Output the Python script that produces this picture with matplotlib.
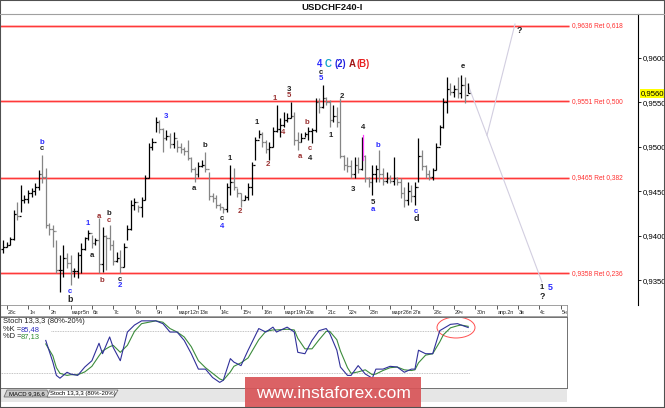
import numpy as np
import matplotlib
matplotlib.use('Agg')
import matplotlib.pyplot as plt
import matplotlib.transforms as mtransforms
from matplotlib.patches import Ellipse, Rectangle, Polygon
from matplotlib.lines import Line2D

plt.rcParams['font.family'] = ['Liberation Sans', 'DejaVu Sans']

# H4 bars, bar index 2 = 28 Feb 00:00, six bars per trading day
highs = [.9395, .9393, .9399, .9429, .9438, .9457, .9446, .9452, .9454, .9459,
         .9474, .9491, .9476, .9414, .9412, .9395, .9378, .9390, .9381, .9378,
         .9364, .9382, .9392, .9399, .9407, .9401, .9398, .9420, .9410, .9401,
         .9412, .9395, .9382, .9384, .9392, .9412, .9440, .9443, .9435, .9444,
         .9468, .9504, .9510, .9534, .9530, .9521, .9519, .9516, .9517, .9508,
         .9504, .9500, .9508, .9489, .9477, .9483, .9485, .9494, .9472, .9448,
         .9446, .9437, .9432, .9459, .9480, .9476, .9454, .9448, .9446, .9459,
         .9483, .9511, .9519, .9517, .9508, .9505, .9522, .9547, .9532, .9539,
         .9538, .9550, .9539, .9517, .9516, .9517, .9522, .9521, .9555, .9555,
         .9570, .9556, .9553, .9547, .9545, .9555, .9491, .9489, .9485, .9489,
         .9489, .9511, .9491, .9466, .9480, .9480, .9496, .9476, .9472, .9468,
         .9489, .9466, .9465, .9455, .9461, .9457, .9461, .9510, .9496, .9480,
         .9474, .9476, .9504, .9525, .9555, .9579, .9572, .9570, .9579, .9581,
         .9579, .9572]
lows = [.9381, .9387, .9390, .9395, .9418, .9427, .9437, .9437, .9444, .9446,
        .9452, .9459, .9409, .9401, .9387, .9358, .9337, .9354, .9364, .9345,
        .9354, .9353, .9358, .9384, .9395, .9386, .9390, .9358, .9359, .9362,
        .9384, .9367, .9371, .9358, .9365, .9395, .9407, .9429, .9427, .9421,
        .9440, .9465, .9496, .9517, .9516, .9494, .9508, .9499, .9499, .9494,
        .9493, .9491, .9485, .9472, .9461, .9466, .9477, .9472, .9440, .9438,
        .9431, .9429, .9426, .9427, .9446, .9452, .9444, .9432, .9440, .9440,
        .9446, .9485, .9510, .9500, .9493, .9485, .9500, .9517, .9511, .9522,
        .9528, .9532, .9502, .9496, .9505, .9511, .9508, .9504, .9517, .9538,
        .9544, .9547, .9522, .9528, .9522, .9487, .9474, .9472, .9465, .9465,
        .9471, .9474, .9461, .9455, .9446, .9461, .9461, .9457, .9459, .9459,
        .9457, .9457, .9443, .9432, .9435, .9438, .9435, .9461, .9474, .9465,
        .9463, .9463, .9474, .9502, .9521, .9538, .9558, .9556, .9555, .9555,
        .9549, .9561]
closes = [.9388, .9390, .9397, .9425, .9422, .9440, .9441, .9448, .9450, .9455,
          .9470, .9466, .9412, .9408, .9405, .9362, .9362, .9375, .9370, .9360,
          .9361, .9378, .9385, .9398, .9403, .9392, .9395, .9368, .9400, .9398,
          .9390, .9372, .9375, .9365, .9388, .9408, .9435, .9438, .9432, .9440,
          .9465, .9500, .9505, .9528, .9520, .9510, .9512, .9503, .9510, .9500,
          .9498, .9495, .9488, .9475, .9470, .9478, .9480, .9475, .9445, .9442,
          .9435, .9432, .9430, .9455, .9460, .9455, .9448, .9440, .9444, .9455,
          .9480, .9508, .9515, .9505, .9498, .9500, .9518, .9520, .9525, .9530,
          .9532, .9535, .9508, .9505, .9510, .9514, .9518, .9519, .9550, .9545,
          .9555, .9550, .9530, .9535, .9528, .9490, .9480, .9478, .9470, .9480,
          .9475, .9490, .9465, .9460, .9470, .9475, .9470, .9462, .9465, .9462,
          .9465, .9460, .9448, .9440, .9450, .9445, .9455, .9490, .9478, .9470,
          .9466, .9474, .9500, .9522, .9550, .9565, .9562, .9565, .9560, .9570,
          .9558, .9560]
first_open = 0.9385

fib_levels = [0.9636, 0.9551, 0.9465, 0.9358]
fib_ratios = ['0,618', '0,500', '0,382', '0,236']
price_ticks = [0.9350, 0.9400, 0.9450, 0.9500, 0.9550, 0.9600]
last_price = 0.9560

day_labels = ['28с', '1ч', '2п', 'март5п', '6в', '7с', '8ч', '9п', 'март12п', '13в',
              '14с', '15ч', '16п', 'март19п', '20в', '21с', '22ч', '23п', 'март26п',
              '27в', '28с', '29ч', '30п', 'апр.2п', '3в', '4с', '5ч']

stoch_idx = [13, 15, 16, 17, 19, 20, 22, 24, 26, 28, 29, 31, 32, 34, 36, 38, 40, 44, 46, 48,
             50, 52, 54, 56, 58, 60, 62, 63, 65, 66, 68, 70, 73, 75, 77, 78, 81, 83, 84, 86,
             88, 90, 92, 93, 95, 96, 98, 99, 101, 103, 105, 106, 108, 110, 112, 114, 116, 117,
             118, 120, 122, 124, 125, 127, 129, 130, 132]
stoch_k = [67, 36, 17, 13, 21.5, 19, 17, 29, 38, 63, 48, 72, 57, 38, 79, 89, 95, 95, 91, 79,
           79, 67, 48, 26, 26, 14, 7, 10, 41, 36, 31, 53, 84, 79, 86, 79, 86, 79, 50, 48,
           67, 81, 84, 77, 53, 29, 17, 17, 31, 19, 13, 26, 26, 30, 29, 21.5, 26, 26,
           53, 48, 48, 81, 84, 90, 91, 89, 85.48]
stoch_d = [62, 45, 28, 20, 17, 18, 18, 22, 30, 45, 52, 58, 60, 50, 60, 80, 91, 95, 93, 84,
           79, 72, 58, 38, 28, 20, 12, 10, 22, 30, 35, 42, 68, 80, 82, 82, 83, 82, 70, 55,
           55, 68, 80, 80, 68, 52, 28, 20, 22, 25, 18, 19, 24, 28, 29, 25, 24, 25,
           35, 46, 48, 65, 75, 85, 88, 89, 87.13]

BLUE, BROWN, BLACK = '#2a2aff', '#9a3030', '#202020'
# wave labels: text, bar index, price, colour, bold
wave_labels = [
    ('b', 11.9, .9505, BLUE, False), ('c', 11.9, .9498, BLACK, False),
    ('1', 24.9, .9414, BLUE, False), ('a', 28.0, .9422, BROWN, False),
    ('b', 30.8, .9425, BLACK, False), ('c', 30.8, .9417, BROWN, False),
    ('a', 26.0, .9378, BLACK, False), ('b', 28.8, .9350, BROWN, False),
    ('c', 33.9, .9351, BLACK, False), ('2', 33.9, .9344, BLUE, False),
    ('c', 19.8, .9337, BLUE, False), ('b', 19.8, .9328, BLACK, True),
    ('3', 46.9, .9534, BLUE, False), ('b', 57.9, .9502, BLACK, False),
    ('a', 54.8, .9453, BLACK, False), ('1', 64.9, .9487, BLACK, False),
    ('c', 62.6, .9419, BLACK, False), ('4', 62.6, .9410, BLUE, False),
    ('2', 67.7, .9427, BROWN, False), ('1', 72.5, .9527, BLACK, False),
    ('1', 77.6, .9554, BROWN, False), ('3', 81.5, .9565, BLACK, False),
    ('5', 81.5, .9558, BROWN, False), ('2', 75.6, .9480, BROWN, False),
    ('4', 79.8, .9516, BROWN, False), ('b', 86.6, .9527, BROWN, False),
    ('a', 84.6, .9489, BROWN, False), ('c', 87.4, .9498, BROWN, False),
    ('4', 87.4, .9487, BLACK, False), ('c', 90.5, .9584, BLACK, False),
    ('5', 90.5, .9577, BLUE, False), ('2', 96.4, .9557, BLACK, False),
    ('1', 93.4, .9513, BLACK, False), ('3', 99.5, .9452, BLACK, False),
    ('4', 102.4, .9522, BLACK, False), ('b', 106.6, .9502, BLUE, False),
    ('5', 105.2, .9438, BLACK, False), ('a', 105.2, .9430, BLUE, False),
    ('c', 117.3, .9427, BLUE, False), ('d', 117.3, .9419, BLACK, True),
    ('e', 130.5, .9590, BLACK, False), ('?', 146.3, .9631, BLACK, True),
    ('1', 152.8, .9342, BLACK, False), ('5', 155.0, .9342, BLUE, True),
    ('?', 152.8, .9332, BLACK, True),
]
big_label = [('4', 90.2, BLUE), ('C', 92.6, '#12a6c8'), ('(2)', 96.1, '#2020e0'),
             ('A', 99.4, '#a01818'), ('(B)', 102.5, '#e82020')]

W, H = 665, 408


def fx(px):
    return px / W


def fy(py):
    return 1 - py / H


def kx(px):
    # pixel column -> bar index
    return (px + 0.4) / 3.55


fig = plt.figure(figsize=(6.65, 4.08), dpi=100)
fig.patch.set_facecolor('white')

# ---- main price panel
ax = fig.add_axes([0, fy(305), fx(638), (305 - 14) / H])
ax.set_xlim(kx(0), kx(638))
ax.set_ylim(0.93223, 0.96493)
for s in ['top', 'left', 'bottom']:
    ax.spines[s].set_visible(False)
ax.spines['right'].set_color('black')
ax.spines['right'].set_linewidth(0.8)
ax.set_xticks([])
ax.yaxis.tick_right()
ax.set_yticks(price_ticks)
ax.set_yticklabels([f'{v:.4f}'.replace('.', ',') for v in price_ticks])
ax.tick_params(axis='y', direction='out', length=2.5, width=0.6, labelsize=5.6, pad=0.8)

idx = np.arange(1, len(highs) + 1)
opens = [first_open] + closes[:-1]
cols = ['#000000' if c >= o else '#858585' for o, c in zip(opens, closes)]
ax.vlines(idx, lows, highs, colors=cols, lw=0.9, zorder=3)
ax.hlines(opens, idx - 0.5, idx, colors=cols, lw=0.9, zorder=3)
ax.hlines(closes, idx, idx + 0.5, colors=cols, lw=0.9, zorder=3)

# fibonacci retracement lines
x_end = kx(569)
ax.hlines(fib_levels, kx(0), x_end, colors='#ffb8b8', lw=1.8, zorder=1)
ax.hlines(fib_levels, kx(0), x_end, colors='#ff3a3a', lw=0.9, zorder=2)
for lv, r in zip(fib_levels, fib_ratios):
    ax.text(kx(572), lv, f'{lv:.4f}'.replace('.', ',') + ' Ret ' + r,
            color='#ff3030', fontsize=4.8, va='center', ha='left')

# forecast lines
ax.plot([kx(468), kx(542)], [0.9570, 0.9348], color='#d2cee0', lw=0.8, zorder=2)
ax.plot([kx(487), kx(515)], [0.9513, 0.9638], color='#d2cee0', lw=0.8, zorder=2)
ax.plot([kx(363), kx(363)], [0.9513, 0.9485], color='#ff40ff', lw=0.9, zorder=4)

for txt, k, p, c, b in wave_labels:
    ax.text(k, p, txt, color=c, fontsize=6.4 if b else 5.6,
            fontweight='bold', ha='center', va='center', zorder=5)
for txt, k, c in big_label:
    ax.text(k, 0.9593, txt, color=c, fontsize=6.9, fontweight='bold',
            ha='center', va='center', zorder=5)

blend = mtransforms.blended_transform_factory(ax.transAxes, ax.transData)
ax.text(1.004, last_price, f'{last_price:.4f}'.replace('.', ','), transform=blend,
        fontsize=5.6, va='center', ha='left',
        bbox=dict(facecolor='#ffff00', edgecolor='none', pad=0.7))

# ---- time axis row
xl = (kx(0), kx(567))
dax = fig.add_axes([0, fy(316), fx(567), 11 / H])
dax.set_xlim(*xl)
dax.set_ylim(0, 1)
dax.set_xticks([])
dax.set_yticks([])
for s in dax.spines.values():
    s.set_color('#909090')
    s.set_linewidth(0.6)
day_pos = [2 + 6 * d for d in range(len(day_labels))]
dax.vlines(day_pos, 0.62, 1, color='#404040', lw=0.6)
for p, lab in zip(day_pos, day_labels):
    dax.text(p + 0.3, 0.32, lab, fontsize=3.8, va='center', ha='left', color='#202020')

# ---- stochastic panel
sax = fig.add_axes([0, fy(388), fx(567), (388 - 317) / H])
sax.set_xlim(*xl)
sax.set_ylim(-1, 100.5)
sax.set_xticks([])
sax.set_yticks([])
for s in sax.spines.values():
    s.set_color('#707070')
    s.set_linewidth(0.7)
sax.hlines(80, kx(51), 132.5, color='#b0b0b0', lw=0.6, linestyles=(0, (1, 1)))
sax.hlines(20, kx(0), 132.5, color='#b0b0b0', lw=0.6, linestyles=(0, (1, 1)))
sax.plot(stoch_idx, stoch_d, color='#3c8c3c', lw=0.8)
sax.plot(stoch_idx, stoch_k, color='#30309a', lw=0.8)
sax.add_patch(Ellipse((kx(456), 85.5), 38 / 3.55, 30, fill=False, ec='#ff5050', lw=0.7))
sax.text(kx(3), 94, 'Stoch 13,3,3 (80%-20%)', fontsize=5.4, va='center', color='#202020')
sax.text(kx(3), 83, '%K =', fontsize=5.4, va='center', color='#202020')
sax.text(kx(21), 83, f'{stoch_k[-1]:.2f}'.replace('.', ','), fontsize=5.4,
         va='center', color='#3030c0')
sax.text(kx(3), 72, '%D =', fontsize=5.4, va='center', color='#202020')
sax.text(kx(21), 72, f'{stoch_d[-1]:.2f}'.replace('.', ','), fontsize=5.4,
         va='center', color='#2a8a2a')

# ---- window chrome
fig.text(0.5, fy(7.5), 'USDCHF240-I', ha='center', va='center', fontsize=6.8,
         fontweight='bold', color='#101010')
fig.add_artist(Line2D([0, 1], [fy(14), fy(14)], color='#a0a0a0', lw=0.8))
fig.add_artist(Rectangle((0, fy(402)), fx(567), 13 / H, transform=fig.transFigure,
                         facecolor='#e6e6e6', edgecolor='none'))
tab1 = [(4, 397), (7, 390), (47, 390), (50, 397)]
tab2 = [(47, 397), (50, 390), (118, 390), (114, 397)]
fig.add_artist(Polygon([(fx(a), fy(b)) for a, b in tab1], closed=True,
                       transform=fig.transFigure, fc='#c9c9c9', ec='#707070', lw=0.6))
fig.add_artist(Polygon([(fx(a), fy(b)) for a, b in tab2], closed=True,
                       transform=fig.transFigure, fc='white', ec='#707070', lw=0.6))
fig.text(fx(27), fy(393.8), 'MACD 9,36,6', fontsize=4.3, ha='center', va='center')
fig.text(fx(83), fy(393.8), 'Stoch 13,3,3 (80%-20%)', fontsize=4.3, ha='center', va='center')

fig.add_artist(Rectangle((fx(245), 0), fx(176), 31 / H, transform=fig.transFigure,
                         facecolor='#d85558', edgecolor='none', alpha=0.92))
fig.text(fx(333), fy(393), 'www.instaforex.com', fontsize=12.5, color='white',
         ha='center', va='center')

fig.add_artist(Rectangle((0, 0), 1, 1, transform=fig.transFigure, fill=False,
                         ec='#505050', lw=1.5))

fig.savefig('out.png', dpi=100)
